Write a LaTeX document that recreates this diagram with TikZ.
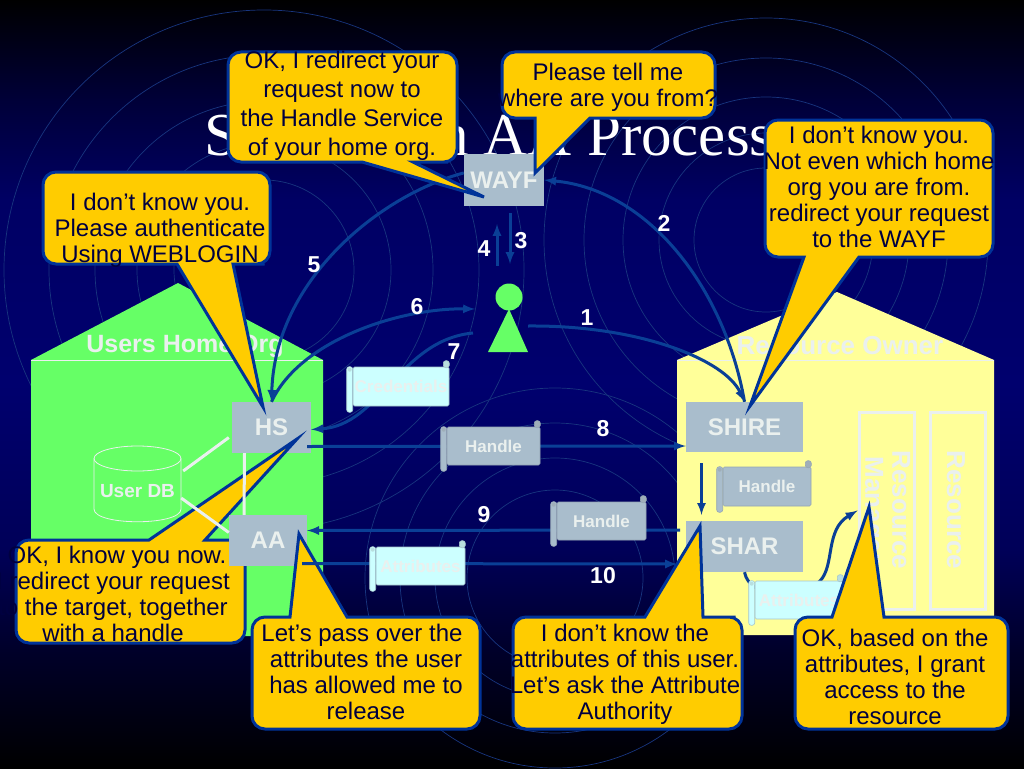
\documentclass[tikz,border=0pt]{standalone}
\usepackage{fontspec}
\setmainfont{Liberation Sans}
\newfontfamily\titlefont{Liberation Serif}
\usepackage{xcolor}
\definecolor{bglow}{HTML}{00002A}
\definecolor{bgmidlow}{HTML}{000058}
\definecolor{bgmid}{HTML}{00006E}
\definecolor{bgmidup}{HTML}{000064}
\definecolor{bgup}{HTML}{000038}
\definecolor{ringblue}{HTML}{18357F}
\definecolor{flowblue}{HTML}{0A3F96}
\definecolor{speechfill}{HTML}{FFCC00}
\definecolor{speechedge}{HTML}{003399}
\definecolor{speechink}{HTML}{000040}
\definecolor{hostgrey}{HTML}{A9BDCC}
\definecolor{paleink}{HTML}{EAF0EE}
\definecolor{homegreen}{HTML}{66FF66}
\definecolor{ownyellow}{HTML}{FFFF99}
\definecolor{scrollcyan}{HTML}{CCFFFF}
\usetikzlibrary{calc}
\pgfdeclareverticalshading{slidebg}{100bp}{color(0bp)=(black); color(25bp)=(black); color(32.7bp)=(bglow); color(39.2bp)=(bgmidlow); color(50bp)=(bgmid); color(62bp)=(bgmidup); color(68.5bp)=(bgup); color(75bp)=(black); color(100bp)=(black)}
\tikzset{
  ring/.style={ringblue, line width=0.7pt},
  hostbox/.style={rectangle, fill=hostgrey, inner sep=0pt, text=paleink, font=\bfseries\fontsize{24}{26}\selectfont},
  scrollbox/.style={rectangle, inner sep=0pt, text=paleink, font=\bfseries\fontsize{17}{19}\selectfont},
  flow/.style={flowblue, line width=3pt, -latex},
  whitelink/.style={paleink, line width=3pt},
  dbline/.style={paleink, line width=0.8pt},
  numlabel/.style={white, font=\bfseries\fontsize{23}{26}\selectfont},
  speechshape/.style={fill=speechfill, draw=speechedge, line width=3pt, line join=miter},
  speechtext/.style={speechink, anchor=base, align=center, inner sep=0pt, font=\fontsize{24}{26}\selectfont},
  resbox/.style={rectangle, draw=paleink, line width=3pt, inner sep=0pt, minimum width=55pt, minimum height=197pt}
}
% x0, x1, y of the edge with the tail, y of the far edge, tail base a, tail base b, tip x, tip y
\newcommand{\speechbox}[8]{
\draw[speechshape] (#7,#8) -- (#5,#3) -- ($(#5,#3)!.5!(#1,#3)$) [rounded corners=13pt] -- (#1,#3) -- (#1,#4) -- (#2,#4) -- (#2,#3) -- ($(#2,#3)!.5!(#6,#3)$) [sharp corners] -- (#6,#3) -- cycle;
}
\begin{document}
\begin{tikzpicture}[x=1pt,y=-1pt]
\useasboundingbox (0,0) rectangle (1024,768);
\shade[shading=slidebg] (0,0) rectangle (1024,768);
% rings
\foreach \r in {90,127,169,215,260}{
\draw[ring] (264,270) circle[radius=\r pt];
}
\foreach \r in {72,107,143,182,222}{
\draw[ring] (766,240) circle[radius=\r pt];
}
\foreach \r in {88,120,155,190}{
\draw[ring] (555,578) circle[radius=\r pt];
}
\node[white, anchor=base west, inner sep=0pt, font=\titlefont\fontsize{61}{61}\selectfont] (title) at (204,155) {Shibboleth AA Process};
% houses
\fill[homegreen] (31,360) -- (178,283) -- (323,360) -- (323,636) -- (31,636) -- cycle;
\fill[ownyellow] (677,360) -- (837,292) -- (994,360) -- (994,635) -- (677,635) -- cycle;
\draw[paleink, line width=0.7pt] (31,360) -- (323,360);
\draw[paleink, line width=0.7pt] (677,360) -- (994,360);
\node[paleink, font=\bfseries\fontsize{25}{26}\selectfont] (homelabel) at (185,346) {Users Home Org};
\node[paleink, font=\bfseries\fontsize{26}{26}\selectfont] (ownerlabel) at (840,346) {Resource Owner};
% boxes
\foreach \x/\y/\w/\h/\nm/\txt in {504/180/80/52/wayf/WAYF, 271.5/427.5/79/51/hs/HS, 744.5/427/117/50/shire/SHIRE, 744.5/546.5/117/51/shar/SHAR}{
\node[hostbox, minimum width=\w pt, minimum height=\h pt] (\nm) at (\x,\y) {\txt};
}
\node[inner sep=0pt, minimum width=87pt, minimum height=62pt, paleink, font=\bfseries\fontsize{19}{22}\selectfont] (userdb) at (137.5,491) {User DB};
\draw[dbline] (137.5,458.5) ellipse[x radius=43.5pt, y radius=12.5pt];
\draw[dbline] (94,458.5) -- (94,509) .. controls (94,526) and (181,526) .. (181,509) -- (181,458.5);
\node[resbox] (resman) at (886.5,510.5) {};
\node[resbox] (resource) at (957.5,510.5) {};
\node[paleink, rotate=-90, align=center, font=\bfseries\fontsize{26}{27}\selectfont] (resmantext) at (885,510) {Resource\\Manager};
\node[paleink, rotate=-90, font=\bfseries\fontsize{26}{27}\selectfont] (resourcetext) at (956,510) {Resource};
% this speech box lies under the links and AA
\speechbox{16}{245}{540}{643}{149}{205}{297}{439}
\node[speechtext] (sayknow) at (113,641) {\hspace*{8pt}OK, I know you now.\\I redirect your request\\to the target, together\\with a handle};
\node[hostbox, minimum width=78pt, minimum height=51pt] (aa) at (268,540.5) {AA};
% links inside the home org
\draw[whitelink] ($(userdb.east)+(2,-20)$) -- ($(hs.west)+(-3,10)$);
\draw[whitelink] ($(userdb.east)+(0,7)$) -- ($(aa.west)+(0,-8)$);
\draw[whitelink] ($(hs.south)+(-27,0)$) -- ($(aa.north)+(-24,0)$);
% the user
\node[circle, fill=homegreen, inner sep=0pt, minimum size=27pt] (userhead) at (509,297) {};
\fill[homegreen] (509,309) -- (528,352) -- (488,352) -- cycle;
\coordinate (userright) at (528,326);
\coordinate (userleft) at (475,309);
\coordinate (userback) at (473,333);
\coordinate (userlow) at (497,266);
\coordinate (wayflow) at (510,213);
\speechbox{252}{480}{617}{729}{290}{347}{299}{534}
\node[speechtext] (saypass) at (366,719) {Let’s pass over the\hspace*{8pt}\\attributes the user\\has allowed me to\\release};
% flows
\draw[flow] (userright) .. controls (640,325) and (725,360) .. (shire.north);
\draw[flow] (shire.north) .. controls (725,290) and (650,190) .. (wayf.east);
\draw[flow] (userlow) -- ++(0,-42);
\draw[flow] (wayflow) -- ++(0,51);
\draw[flow] (wayf.170) .. controls (380,195) and (275,280) .. (hs.north);
\draw[flow] (hs.north) .. controls (300,340) and (400,308) .. (userleft);
\draw[flow] (userback) .. controls (400,340) and (380,425) .. ($(hs.east)+(0,2)$);
\draw[flow] ($(hs.east)+(-4,19)$) -- ($(shire.west)+(0,19)$);
\coordinate (sharback) at (680,530);
\draw[flow] (sharback) -- ($(aa.east)+(0,-10)$);
\draw[flow] ($(aa.east)+(-5,23)$) -- (677,564);
\draw[flow] ($(shire.south)+(-43,11)$) -- ($(shar.north)+(-43,-6)$);
\draw[flowblue, line width=3pt] (shar.south) .. controls (750,600) and (800,600) .. (820,581);
\draw[flow] (820,581) .. controls (835,565) and (825,530) .. (resman.west);
% scrolls
\foreach \x/\y/\w/\h/\nm/\col/\txt in {401/386.5/96/39/credscroll/scrollcyan/Credentials, 493.5/446/93/38/handlea/hostgrey/Handle, 767/486.5/88/39/handleb/hostgrey/Handle, 601.5/521/89/38/handlec/hostgrey/Handle, 420.5/566/89/38/attra/scrollcyan/Attributes, 799/600/88/38/attrb/scrollcyan/Attributes}{
\node[scrollbox, fill=\col, draw=\col!80!black!60!hostgrey, line width=0.6pt, rounded corners=1.5pt, minimum width=\w pt, minimum height=\h pt] (\nm) at (\x,\y) {\txt};
\draw[fill=\col, draw=\col!80!black!60!hostgrey, line width=0.6pt, rounded corners=2.5pt] ($(\nm.north west)+(-6,0)$) rectangle ($(\nm.south west)+(0,6)$);
\draw[fill=\col!75!gray, draw=\col!80!black!60!hostgrey, line width=0.6pt, rounded corners=2.5pt] ($(\nm.north east)+(-6,-6)$) rectangle ($(\nm.north east)+(0,1)$);
\fill[\col!75!gray] ($(\nm.north west)+(-3,3)$) circle[radius=2pt];
}
% numbers
\foreach \x/\y/\nm/\txt in {587/318/numa/1, 664/223/numb/2, 521/241/numc/3, 484/249/numd/4, 314/265/nume/5, 417/307/numf/6, 454/352/numg/7, 603/429/numh/8, 484/515/numi/9, 603/576/numj/10}{
\node[numlabel] (\nm) at (\x,\y) {\txt};
}
% speech boxes
\speechbox{228}{457}{162}{52}{362}{413}{484}{197}
\node[speechtext, font=\fontsize{24}{29}\selectfont] (sayredirect) at (342,155) {OK, I redirect your\\request now to\\the Handle Service\\of your home org.};
\speechbox{502}{715}{118}{52}{535}{590}{535}{173}
\node[speechtext] (saywhere) at (608,106) {Please tell me\\where are you from?};
\speechbox{43}{270}{264}{172}{177}{233}{263}{407}
\node[speechtext] (sayauth) at (160,262) {I don’t know you.\\Please authenticate\\Using WEBLOGIN};
\speechbox{765}{993}{257}{120}{804}{859}{750}{406}
\node[speechtext] (saywayf) at (879,247) {I don’t know you.\\Not even which home\\org you are from.\\redirect your request\\to the WAYF};
\speechbox{513}{742}{617}{729}{645}{703}{700}{526}
\node[speechtext] (sayask) at (625,719) {I don’t know the\\attributes of this user.\\Let’s ask the Attribute\\Authority};
\speechbox{795}{1008}{617}{729}{832}{884}{869}{507}
\node[speechtext] (saygrant) at (895,724) {OK, based on the\\attributes, I grant\\access to the\hspace*{8pt}\\resource};
\end{tikzpicture}
\end{document}
